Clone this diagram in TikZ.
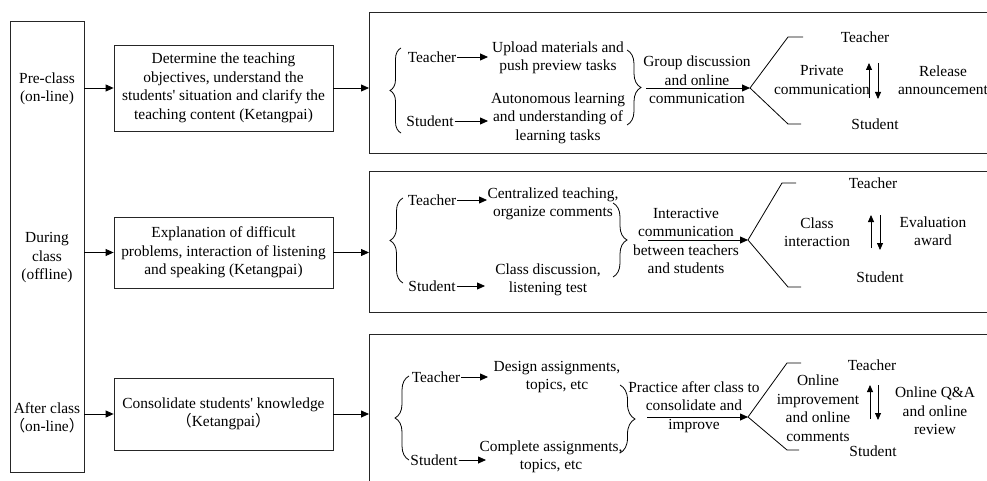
\documentclass[tikz,border=0pt]{standalone}
\usepackage{fontspec}
\setmainfont{Liberation Serif}
\newfontfamily\cjk{Noto Sans CJK SC}
\usetikzlibrary{arrows.meta,decorations.pathreplacing}
\begin{document}
\begin{tikzpicture}[x=1pt,y=-1pt,
  every node/.style={font=\fontsize{15.4}{18.5}\selectfont, align=center, inner sep=1pt},
  box/.style={draw=black!85, line width=0.8pt, inner sep=0pt},
  arr/.style={-{Triangle[length=8pt,width=7pt]}, line width=0.8pt},
  sarr/.style={-{Triangle[length=7pt,width=6pt]}, line width=0.8pt},
  ln/.style={line width=0.8pt},
  brc/.style={decorate, decoration={brace, amplitude=#1}, line width=0.8pt},
  brc/.default=12
]
\useasboundingbox (0,0) rectangle (987,481);
\fill[white] (0,0) rectangle (987,481);
\clip (0,0) rectangle (987,481);

% left column
\node[box, minimum width=74pt, minimum height=451pt] (L) at (47,246.5) {};
\node (PC) at (47,89) {Pre-class\\(on-line)};
\node (DC) at (47,258) {During\\class\\(offline)};
\node (AC) at (47,418) {After class\\{\cjk （}on-line{\cjk ）}};

% middle boxes
\node[box, minimum width=219pt, minimum height=86pt] (A1) at (223.5,88) {Determine the teaching\\objectives, understand the\\students\textquotesingle{} situation and clarify the\\teaching content (Ketangpai)};
\node[box, minimum width=219pt, minimum height=71pt] (A2) at (223.5,252.5) {Explanation of difficult\\problems, interaction of listening\\and speaking (Ketangpai)};
\node[box, minimum width=219pt, minimum height=72pt] (A3) at (223.5,414) {Consolidate students\textquotesingle{} knowledge\\{\cjk （}Ketangpai{\cjk ）}};

% big boxes
\node[box, minimum width=640pt, minimum height=141pt, anchor=north west] (B1) at (369,12) {};
\node[box, minimum width=640pt, minimum height=141pt, anchor=north west] (B2) at (369,171) {};
\node[box, minimum width=640pt, minimum height=200pt, anchor=north west] (B3) at (369,334) {};

\draw[arr] (A1.west -| L.east) -- (A1.west);
\draw[arr] (A2.west -| L.east) -- (A2.west);
\draw[arr] (A3.west -| L.east) -- (A3.west);
\draw[arr] (A1.east) -- (A1.east -| B1.west);
\draw[arr] (A2.east) -- (A2.east -| B2.west);
\draw[arr] (A3.east) -- (A3.east -| B3.west);

% ---------- row 1
\node (T1) at (432,57) {Teacher};
\node (S1) at (430,121) {Student};
\node (U1) at (558,58) {Upload materials and\\push preview tasks};
\node (AU1) at (558,118) {Autonomous learning\\and understanding of\\learning tasks};
\coordinate (t1a) at (488,57); \coordinate (s1a) at (488,121);
\draw[arr] (T1.east) -- (T1.east -| t1a);
\draw[arr] (S1.east) -- (S1.east -| s1a);
\coordinate (L1t) at (401,48); \coordinate (L1b) at (401,133);
\draw[brc=11] (L1b) -- (L1t);
\coordinate (R1t) at (627,50); \coordinate (R1b) at (627,125);
\draw[brc=14] (R1t) -- (R1b);
\node (G1) at (697,80) {Group discussion\\and online\\communication};
\coordinate (R1s) at (646,88); \coordinate (K1) at (750,88);
\draw[arr] (R1s) -- (K1);
\coordinate (F1a) at (803,37); \coordinate (F1b) at (788,37);
\coordinate (F1c) at (788,124); \coordinate (F1d) at (801,124);
\draw[ln] (F1a) -- (F1b) -- (K1) -- (F1c) -- (F1d);
\node (TT1) at (865,37) {Teacher};
\node (SS1) at (875,124) {Student};
\node (P1) at (822,80) {Private\\communication};
\node (RA1) at (943,80) {Release\\announcement};
\coordinate (u1a) at (869,98); \coordinate (u1b) at (869,63);
\coordinate (d1a) at (878,63); \coordinate (d1b) at (878,99);
\draw[sarr] (u1a) -- (u1b);
\draw[sarr] (d1a) -- (d1b);

% ---------- row 2
\node (T2) at (432,200) {Teacher};
\node (S2) at (432,286) {Student};
\node (C2) at (553,204) {Centralized teaching,\\organize comments};
\node (CD2) at (548,280) {Class discussion,\\listening test};
\coordinate (t2a) at (487,200); \coordinate (s2a) at (485,286);
\draw[arr] (T2.east) -- (T2.east -| t2a);
\draw[arr] (S2.east) -- (S2.east -| s2a);
\coordinate (L2t) at (403,198); \coordinate (L2b) at (403,283);
\draw[brc=13] (L2b) -- (L2t);
\coordinate (R2t) at (613,203); \coordinate (R2b) at (613,277);
\draw[brc=14] (R2t) -- (R2b);
\node (IC2) at (686,241) {Interactive\\communication\\between teachers\\and students};
\coordinate (R2s) at (648,240); \coordinate (K2) at (748,240);
\draw[arr] (R2s) -- (K2);
\coordinate (F2a) at (796,183); \coordinate (F2b) at (782,183);
\coordinate (F2c) at (788,287); \coordinate (F2d) at (801,287);
\draw[ln] (F2a) -- (F2b) -- (K2) -- (F2c) -- (F2d);
\node (TT2) at (873,183) {Teacher};
\node (SS2) at (880,277) {Student};
\node (CI2) at (817,232) {Class\\interaction};
\node (EA2) at (933,231) {Evaluation\\award};
\coordinate (u2a) at (871,248); \coordinate (u2b) at (871,215);
\coordinate (d2a) at (880,215); \coordinate (d2b) at (880,250);
\draw[sarr] (u2a) -- (u2b);
\draw[sarr] (d2a) -- (d2b);

% ---------- row 3
\node (T3) at (436,377) {Teacher};
\node (S3) at (434,460) {Student};
\node (D3) at (557,377) {Design assignments,\\topics, etc};
\node (CA3) at (551,457) {Complete assignments,\\topics, etc};
\coordinate (t3a) at (488,377); \coordinate (s3a) at (486,460);
\draw[arr] (T3.east) -- (T3.east -| t3a);
\draw[arr] (S3.east) -- (S3.east -| s3a);
\coordinate (L3t) at (409,376); \coordinate (L3b) at (409,460);
\draw[brc=14] (L3b) -- (L3t);
\coordinate (R3t) at (620,385); \coordinate (R3b) at (620,453);
\draw[brc=15] (R3t) -- (R3b);
\node (PA3) at (694,407) {Practice after class to\\consolidate and\\improve};
\coordinate (R3s) at (647,417); \coordinate (K3) at (748,417);
\draw[arr] (R3s) -- (K3);
\coordinate (F3a) at (801,363); \coordinate (F3b) at (787,363);
\coordinate (F3c) at (787,450); \coordinate (F3d) at (799,450);
\draw[ln] (F3a) -- (F3b) -- (K3) -- (F3c) -- (F3d);
\node (TT3) at (872,365) {Teacher};
\node (SS3) at (873,451) {Student};
\node (OI3) at (818,408) {Online\\improvement\\and online\\comments};
\node (OQ3) at (935,411) {Online Q\&A\\and online\\review};
\coordinate (u3a) at (870,419); \coordinate (u3b) at (870,385);
\coordinate (d3a) at (878,385); \coordinate (d3b) at (878,420);
\draw[sarr] (u3a) -- (u3b);
\draw[sarr] (d3a) -- (d3b);
\end{tikzpicture}
\end{document}
